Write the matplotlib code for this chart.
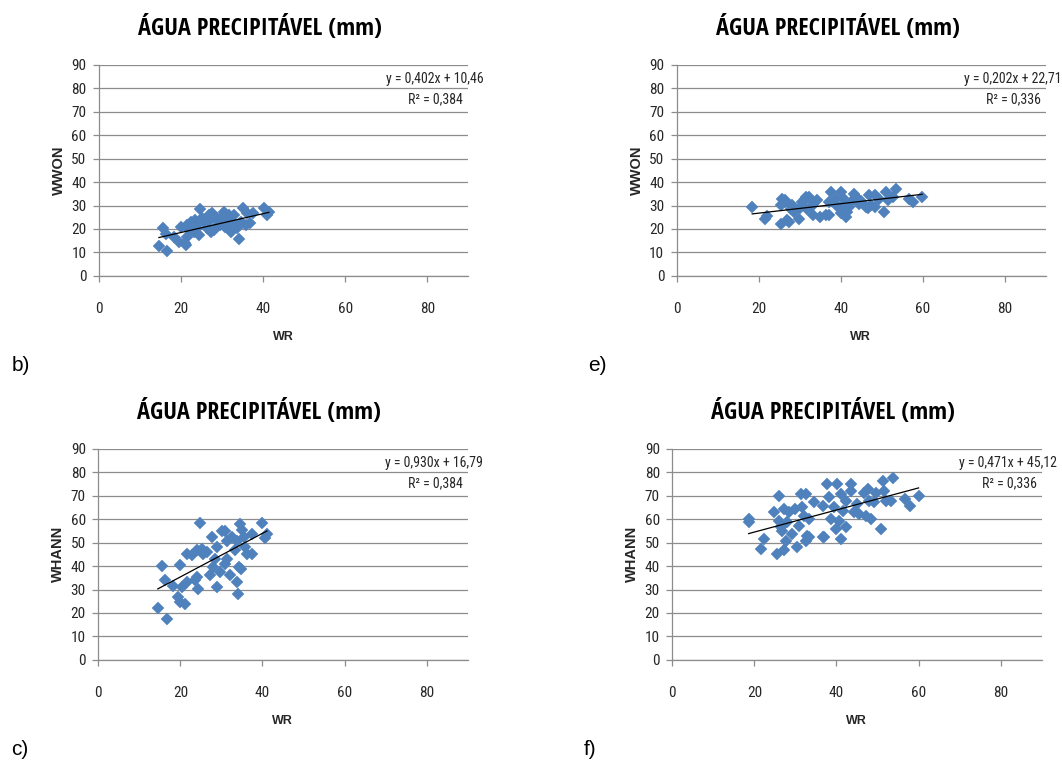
import matplotlib
matplotlib.use("Agg")
import matplotlib.pyplot as plt
from matplotlib import font_manager as fm
import numpy as np

W, H = 1062, 762

# ---------------- data ----------------
wr_b = [14.6, 16.6, 15.6, 16.4, 18.3, 19.9, 19.5, 21.1, 21.5, 22.3, 21.5, 23.5, 24.7, 24.3,
        23.9, 25.9, 27.6, 27.2, 28.8, 29.6, 30.4, 31.3, 32.1, 32.9, 34.1, 33.7, 35.0, 34.5,
        36.1, 37.4, 36.9, 40.2, 41.0, 41.4, 25.2, 26.8, 28.4, 30.8, 30.0, 31.7, 35.7, 26.4,
        23.1, 20.9, 22.0, 24.0, 26.0, 28.0, 29.0, 33.0, 31.0, 27.0]
wwon_b = [12.8, 10.5, 20.5, 18.0, 16.7, 21.0, 14.5, 13.1, 16.7, 23.1, 21.7, 23.8, 28.5, 17.4,
          20.2, 22.4, 26.6, 18.8, 24.5, 21.7, 27.4, 23.8, 18.8, 25.9, 15.9, 20.2, 28.8, 23.1,
          26.6, 26.6, 22.4, 29.0, 25.9, 27.4, 24.5, 25.9, 21.0, 21.0, 25.2, 25.9, 21.7, 20.2,
          18.8, 14.0, 19.5, 22.5, 23.5, 19.5, 23.5, 22.0, 21.5, 24.0]

wr_c = [14.5, 16.7, 15.4, 16.3, 18.3, 19.8, 19.3, 19.8, 21.1, 20.3, 21.5, 21.5, 22.8, 24.0,
        24.8, 24.0, 24.4, 23.6, 25.6, 25.2, 26.4, 27.6, 27.2, 28.0, 28.5, 28.9, 28.9, 29.7,
        30.1, 30.9, 30.9, 31.3, 31.3, 32.1, 32.5, 33.3, 33.7, 34.0, 33.7, 34.4, 34.7, 34.6,
        35.0, 35.4, 35.8, 36.2, 37.4, 37.4, 39.8, 41.1, 40.7]
whann_c = [22.2, 17.3, 39.9, 33.9, 31.5, 40.3, 26.9, 24.8, 24.0, 31.1, 33.2, 45.3, 44.6, 46.7,
           58.3, 35.4, 30.4, 33.9, 45.3, 47.4, 46.0, 52.3, 36.1, 39.6, 43.1, 31.1, 48.1, 37.5,
           55.2, 55.2, 41.0, 50.9, 43.1, 36.1, 52.3, 46.7, 33.2, 28.0, 50.9, 39.6, 38.9, 58.0,
           55.4, 52.3, 48.1, 45.3, 53.7, 45.3, 58.3, 53.7, 52.0]

wr_e = [18.4, 21.6, 22.0, 25.3, 25.7, 25.3, 26.9, 27.3, 26.5, 28.2, 28.6, 29.8, 30.6, 31.4,
        32.2, 31.8, 33.1, 32.7, 34.3, 36.3, 37.1, 37.6, 37.1, 38.8, 40.0, 40.4, 41.2, 41.6,
        40.8, 42.4, 43.3, 43.7, 44.5, 46.1, 46.9, 47.3, 48.2, 48.2, 49.4, 50.6, 51.0, 51.4,
        53.5, 52.7, 56.7, 57.6, 59.8, 26.4, 31.3, 34.8, 40.0, 46.5, 27.8, 30.0, 33.5, 39.0,
        42.0, 45.0]
wwon_e = [29.4, 24.1, 25.5, 22.3, 32.9, 30.1, 23.7, 23.0, 31.5, 30.1, 27.2, 24.4, 31.5, 33.6,
          33.6, 28.7, 25.8, 29.4, 32.2, 25.8, 25.8, 35.7, 31.5, 32.9, 35.7, 30.1, 25.1, 27.2,
          32.9, 31.5, 35.0, 33.6, 30.8, 29.4, 34.3, 30.1, 34.3, 29.4, 32.9, 27.2, 35.7, 32.2,
          37.2, 33.6, 32.9, 31.5, 33.6, 32.4, 33.0, 25.2, 26.6, 28.8, 28.5, 29.0, 31.0, 30.0,
          29.5, 32.0]

wr_f = [18.6, 18.6, 21.5, 22.3, 24.7, 25.6, 26.0, 26.0, 26.4, 26.8, 27.2, 27.2, 27.6, 28.0,
        28.4, 29.2, 30.0, 30.4, 30.9, 31.3, 31.7, 32.1, 32.5, 32.5, 32.9, 33.3, 33.3, 34.5,
        36.6, 37.0, 36.6, 37.8, 38.2, 38.6, 39.4, 39.8, 40.2, 40.7, 41.1, 41.1, 41.5, 42.3,
        42.3, 43.5, 43.5, 44.3, 45.1, 45.6, 46.8, 47.2, 47.6, 48.0, 48.4, 49.2, 49.6, 50.9,
        51.3, 51.7, 52.1, 53.7, 53.3, 56.6, 57.8, 60.0]
whann_f = [60.1, 59.0, 47.4, 51.6, 62.9, 45.3, 70.0, 59.4, 56.6, 55.2, 64.4, 46.7, 50.9, 58.7,
           63.0, 53.7, 64.4, 48.1, 57.3, 70.7, 65.1, 61.5, 50.9, 70.7, 53.0, 52.3, 60.1, 67.2,
           52.3, 52.3, 65.8, 75.0, 69.3, 60.1, 65.1, 55.9, 75.0, 59.4, 51.6, 70.7, 63.6, 56.6,
           67.9, 75.0, 72.1, 62.9, 66.5, 62.2, 71.4, 61.5, 72.8, 67.9, 60.1, 67.2, 71.4, 55.9,
           76.4, 72.1, 67.9, 77.8, 67.9, 68.6, 65.8, 70.0]

slopes = [0.402, 0.202, 0.930, 0.471]
intercepts = [10.46, 22.71, 16.79, 45.12]
eq_labels = ["y = 0,402x + 10,46", "y = 0,202x + 22,71", "y = 0,930x + 16,79", "y = 0,471x + 45,12"]
r2_labels = ["R² = 0,384", "R² = 0,336", "R² = 0,384", "R² = 0,336"]
y_labels = ["WWON", "WWON", "WHANN", "WHANN"]
panel_letters = ["b)", "e)", "c)", "f)"]
title = "ÁGUA PRECIPITÁVEL (mm)"
x_ticks = [0, 20, 40, 60, 80]
y_ticks = [0, 10, 20, 30, 40, 50, 60, 70, 80, 90]

xs_all = [wr_b, wr_e, wr_c, wr_f]
ys_all = [wwon_b, wwon_e, whann_c, whann_f]

# ---------------- fonts: look for a narrow / condensed face ----------------
def find_narrow(bold):
    prefs = ["Liberation Sans Narrow", "Open Sans Condensed", "Roboto Condensed",
             "Noto Sans Condensed", "Noto Sans", "DejaVu Sans Condensed", "DejaVu Sans"]
    cands = []
    for f in fm.fontManager.ttflist:
        narrow = (f.stretch in ("condensed", "semi-condensed", "extra-condensed")
                  or "Narrow" in f.name or "Condensed" in f.name
                  or "Condensed" in f.fname or "Narrow" in f.fname)
        if not narrow or f.style != "normal":
            continue
        w = f.weight if isinstance(f.weight, int) else (700 if "bold" in str(f.weight) else 400)
        if bold and w < 600:
            continue
        if not bold and w > 500:
            continue
        if "Extra" in f.fname or "Ultra" in f.fname or "SemiCondensed" in f.fname:
            continue
        rank = len(prefs)
        for k, p in enumerate(prefs):
            if f.name == p:
                rank = k
                break
        cands.append((rank, abs(w - (700 if bold else 400)), f.fname))
    if cands:
        cands.sort()
        return fm.FontProperties(fname=cands[0][2])
    return None

fp_bold = find_narrow(True)
fp_reg = find_narrow(False)
HAVE_NARROW = fp_bold is not None and fp_reg is not None
if not HAVE_NARROW:
    fp_bold = fm.FontProperties(family="DejaVu Sans", weight="bold")
    fp_reg = fm.FontProperties(family="DejaVu Sans")

def fprop(base, size):
    p = base.copy()
    p.set_size(size)
    return p

ARIAL = ["Liberation Sans", "DejaVu Sans"]
BLUE = "#4F81BD"
GRID = "#8C8C8C"
TXT = "#262626"

title_size = 17.5 if HAVE_NARROW else 13
tick_size = 11 if HAVE_NARROW else 9
eq_size = 10 if HAVE_NARROW else 8

fig = plt.figure(figsize=(W / 100, H / 100), dpi=100)
fig.patch.set_facecolor("white")

geo = [(99.0, 65.0), (676.7, 65.0), (98.3, 449.0), (672.3, 449.0)]
aw, ah = 369.4, 210.8

def fx(px):
    return px / W

def fy(py):
    return 1 - py / H

for i in range(4):
    left, top = geo[i]
    ax = fig.add_axes([fx(left), fy(top + ah), aw / W, ah / H])
    ax.set_xlim(0, 90)
    ax.set_ylim(0, 90)
    ax.set_xticks(x_ticks)
    ax.set_yticks(y_ticks)
    ax.grid(axis="y", color=GRID, lw=0.9)
    ax.set_axisbelow(True)
    for s in ["top", "right"]:
        ax.spines[s].set_visible(False)
    for s in ["left", "bottom"]:
        ax.spines[s].set_color(GRID)
        ax.spines[s].set_linewidth(0.9)
    ax.tick_params(axis="x", direction="out", length=4, width=0.9, color=GRID,
                   pad=15, labelcolor=TXT)
    ax.tick_params(axis="y", direction="out", length=4, width=0.9, color=GRID,
                   pad=5, labelcolor=TXT)
    for lab in ax.get_xticklabels() + ax.get_yticklabels():
        lab.set_fontproperties(fprop(fp_reg, tick_size))

    x = np.array(xs_all[i])
    y = np.array(ys_all[i])
    ax.plot(x, y, linestyle="none", marker="D", markersize=6.2, color=BLUE,
            markeredgecolor=BLUE, markeredgewidth=0.3, zorder=3)
    xl = np.array([x.min(), x.max()])
    ax.plot(xl, slopes[i] * xl + intercepts[i], color="black", lw=0.9, zorder=4)

    ax.text(1.042, 0.935, eq_labels[i], transform=ax.transAxes, ha="right", va="center",
            fontproperties=fprop(fp_reg, eq_size), color=TXT, clip_on=False)
    ax.text(0.986, 0.835, r2_labels[i], transform=ax.transAxes, ha="right", va="center",
            fontproperties=fprop(fp_reg, eq_size), color=TXT, clip_on=False)

    cx = left + 161
    fig.text(fx(cx), fy(top - 37), title, ha="center", va="center",
             fontproperties=fprop(fp_bold, title_size), color="black")
    fig.text(fx(left - 40), fy(top + 105), y_labels[i], rotation=90, ha="center",
             va="center", fontsize=10.5, fontweight="bold", family=ARIAL, color=TXT)
    fig.text(fx(left + 184), fy(top + ah + 61), "WR", ha="center", va="center",
             fontsize=9, fontweight="bold", family=ARIAL, color=TXT)
    fig.text(fx(left - 87 if i % 2 == 0 else left - 89), fy(top + ah + 90), panel_letters[i],
             ha="left", va="center", fontsize=15, family=ARIAL, color="black")

fig.savefig("out.png", dpi=100, facecolor="white")
